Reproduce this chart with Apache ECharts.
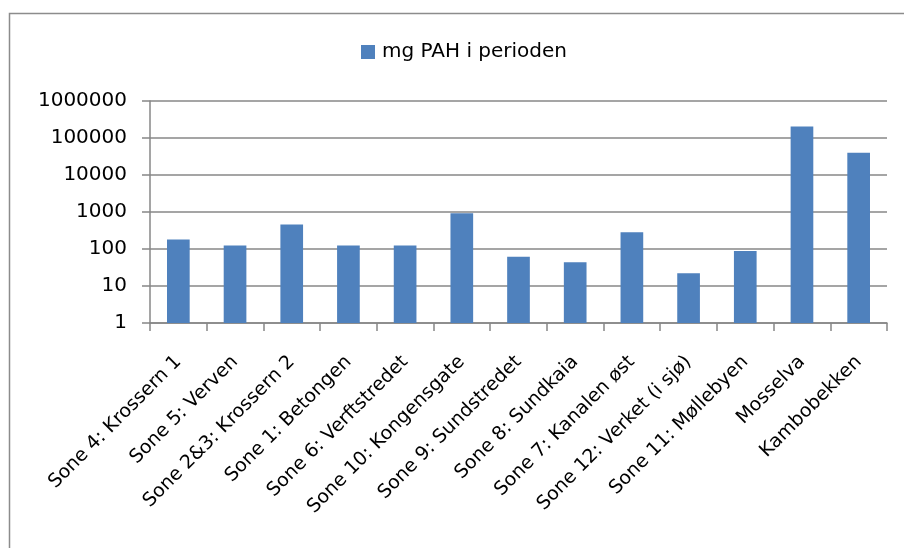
<!DOCTYPE html>
<html>
<head>
<meta charset="utf-8">
<script src="https://cdn.jsdelivr.net/npm/echarts@6/dist/echarts.min.js"></script>
<style>
  html, body { margin: 0; padding: 0; background: #fff; }
  #chart { width: 904px; height: 548px; }
</style>
</head>
<body>
<div id="chart"></div>
<script>
// kategorier langs x-aksen
var categories = [
    'Sone 4: Krossern 1',
    'Sone 5: Verven',
    'Sone 2&3: Krossern 2',
    'Sone 1: Betongen',
    'Sone 6: Verftstredet',
    'Sone 10: Kongensgate',
    'Sone 9: Sundstredet',
    'Sone 8: Sundkaia',
    'Sone 7: Kanalen øst',
    'Sone 12: Verket (i sjø)',
    'Sone 11: Møllebyen',
    'Mosselva',
    'Kambobekken'
];
var seriesName = 'mg PAH i perioden';
var pahValues = [180, 125, 460, 125, 125, 930, 62, 44, 285, 22, 88, 205000, 40000];

var font = 'DejaVu Sans';
var gridColor = '#878787';

var chart = echarts.init(document.getElementById('chart'));

var option = {
    animation: false,
    backgroundColor: '#fff',
    graphic: [{
        type: 'rect',
        shape: {x: 9.5, y: 13.5, width: 1000, height: 1000},
        style: {fill: 'none', stroke: '#8c8c8c', lineWidth: 1.5},
        silent: true
    }],
    legend: {
        data: [seriesName],
        left: 361,
        top: 42,
        padding: 0,
        itemWidth: 14,
        itemHeight: 14,
        icon: 'rect',
        textStyle: {fontFamily: font, fontSize: 20, color: '#000', padding: [0, 0, 0, 2]}
    },
    grid: {
        left: 150,
        right: 17,
        top: 101,
        bottom: 225
    },
    xAxis: {
        type: 'category',
        data: categories,
        axisLine: {lineStyle: {color: gridColor, width: 1.5}},
        axisTick: {show: true, length: 8, alignWithLabel: false, lineStyle: {color: gridColor, width: 1.5}},
        axisLabel: {
            interval: 0,
            rotate: 45,
            margin: 36,
            fontFamily: font,
            fontSize: 19,
            color: '#000'
        }
    },
    yAxis: {
        type: 'log',
        logBase: 10,
        min: 1,
        max: 1000000,
        axisLine: {show: true, lineStyle: {color: gridColor, width: 1.5}},
        axisTick: {show: true, length: 8, lineStyle: {color: gridColor, width: 1.5}},
        splitLine: {show: true, lineStyle: {color: gridColor, width: 1.5}},
        axisLabel: {
            margin: 23,
            fontFamily: font,
            fontSize: 20,
            color: '#000',
            formatter: function (v) {
                return String(Math.round(v));
            }
        }
    },
    series: [{
        name: seriesName,
        type: 'bar',
        data: pahValues,
        barWidth: '40%',
        itemStyle: {color: '#4F81BD'}
    }]
};

chart.setOption(option);
</script>
</body>
</html>
